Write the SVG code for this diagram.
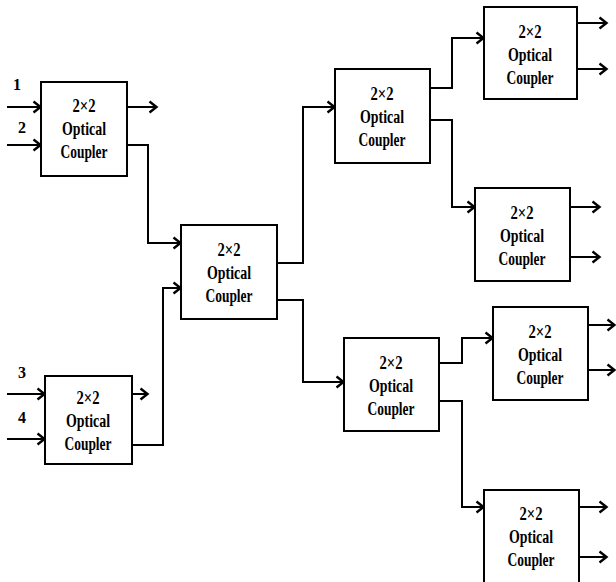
<svg xmlns="http://www.w3.org/2000/svg" width="616" height="582" viewBox="0 0 616 582">
  <style>
    .box { fill: #ffffff; stroke: #000000; stroke-width: 2; }
    .lbl { font-family: "Liberation Serif", "Times New Roman", serif; font-weight: bold; font-size: 18px; fill: #000000; text-anchor: middle; }
    .num { font-family: "Liberation Serif", "Times New Roman", serif; font-weight: bold; font-size: 16px; fill: #000000; text-anchor: middle; }
    .wire { fill: none; stroke: #000000; stroke-width: 2; }
    .arr { marker-end: url(#head); }
  </style>
  <defs>
    <marker id="head" markerUnits="userSpaceOnUse" viewBox="-12 -8 14 16" refX="0" refY="0" markerWidth="14" markerHeight="16" orient="auto">
      <path d="M-7.5,-5.5 L-0.5,0 L-7.5,5.5" fill="none" stroke="#000000" stroke-width="2.4" stroke-linejoin="miter"/>
    </marker>
  </defs>

  <rect width="616" height="582" fill="#ffffff"/>

  <!-- input port numbers -->
  <g id="inputs">
    <text class="num" x="17" y="90">1</text>
    <text class="num" x="22" y="133">2</text>
    <text class="num" x="22" y="378">3</text>
    <text class="num" x="22" y="423">4</text>
  </g>

  <!-- wiring between couplers -->
  <g id="connectors">
    <path class="wire arr" d="M7,107 H41"/>
    <path class="wire arr" d="M7,145 H41"/>
    <path class="wire arr" d="M7,394 H45"/>
    <path class="wire arr" d="M7,439 H45"/>

    <path class="wire arr" d="M127,107 H157"/>
    <path class="wire arr" d="M127,145 H148 V243 H181"/>
    <path class="wire arr" d="M132,394 H148"/>
    <path class="wire arr" d="M132,445 H163 V288 H181"/>

    <path class="wire arr" d="M277,263 H303 V107 H335"/>
    <path class="wire arr" d="M277,300 H303 V382 H344"/>

    <path class="wire arr" d="M430,88 H452 V38 H484"/>
    <path class="wire arr" d="M430,120 H452 V207 H475"/>
    <path class="wire arr" d="M439,363 H462 V338 H493"/>
    <path class="wire arr" d="M439,401 H462 V507 H484"/>

    <path class="wire arr" d="M577,23 H607"/>
    <path class="wire arr" d="M577,69 H607"/>
    <path class="wire arr" d="M570,207 H600"/>
    <path class="wire arr" d="M570,257 H600"/>
    <path class="wire arr" d="M588,325 H615"/>
    <path class="wire arr" d="M588,370 H615"/>
    <path class="wire arr" d="M579,507 H607"/>
    <path class="wire arr" d="M579,557 H607"/>
  </g>

  <!-- 2x2 couplers -->
  <g id="couplerA">
    <rect class="box" x="41" y="82" width="86" height="94"/>
    <text class="lbl" x="84" y="112" textLength="23" lengthAdjust="spacingAndGlyphs">2×2</text>
    <text class="lbl" x="84" y="135" textLength="44" lengthAdjust="spacingAndGlyphs">Optical</text>
    <text class="lbl" x="84" y="158" textLength="47" lengthAdjust="spacingAndGlyphs">Coupler</text>
  </g>
  <g id="couplerD">
    <rect class="box" x="45" y="376" width="87" height="88"/>
    <text class="lbl" x="88" y="404" textLength="23" lengthAdjust="spacingAndGlyphs">2×2</text>
    <text class="lbl" x="88" y="427" textLength="44" lengthAdjust="spacingAndGlyphs">Optical</text>
    <text class="lbl" x="88" y="450" textLength="47" lengthAdjust="spacingAndGlyphs">Coupler</text>
  </g>
  <g id="couplerB">
    <rect class="box" x="181" y="225" width="96" height="94"/>
    <text class="lbl" x="229" y="256" textLength="23" lengthAdjust="spacingAndGlyphs">2×2</text>
    <text class="lbl" x="229" y="279" textLength="44" lengthAdjust="spacingAndGlyphs">Optical</text>
    <text class="lbl" x="229" y="302" textLength="47" lengthAdjust="spacingAndGlyphs">Coupler</text>
  </g>
  <g id="couplerC">
    <rect class="box" x="335" y="69" width="95" height="94"/>
    <text class="lbl" x="382" y="100" textLength="23" lengthAdjust="spacingAndGlyphs">2×2</text>
    <text class="lbl" x="382" y="123" textLength="44" lengthAdjust="spacingAndGlyphs">Optical</text>
    <text class="lbl" x="382" y="146" textLength="47" lengthAdjust="spacingAndGlyphs">Coupler</text>
  </g>
  <g id="couplerG">
    <rect class="box" x="344" y="338" width="95" height="93"/>
    <text class="lbl" x="391" y="369" textLength="23" lengthAdjust="spacingAndGlyphs">2×2</text>
    <text class="lbl" x="391" y="392" textLength="44" lengthAdjust="spacingAndGlyphs">Optical</text>
    <text class="lbl" x="391" y="415" textLength="47" lengthAdjust="spacingAndGlyphs">Coupler</text>
  </g>
  <g id="couplerE">
    <rect class="box" x="484" y="7" width="93" height="92"/>
    <text class="lbl" x="530" y="38" textLength="23" lengthAdjust="spacingAndGlyphs">2×2</text>
    <text class="lbl" x="530" y="61" textLength="44" lengthAdjust="spacingAndGlyphs">Optical</text>
    <text class="lbl" x="530" y="84" textLength="47" lengthAdjust="spacingAndGlyphs">Coupler</text>
  </g>
  <g id="couplerF">
    <rect class="box" x="475" y="188" width="95" height="93"/>
    <text class="lbl" x="522" y="219" textLength="23" lengthAdjust="spacingAndGlyphs">2×2</text>
    <text class="lbl" x="522" y="242" textLength="44" lengthAdjust="spacingAndGlyphs">Optical</text>
    <text class="lbl" x="522" y="265" textLength="47" lengthAdjust="spacingAndGlyphs">Coupler</text>
  </g>
  <g id="couplerH">
    <rect class="box" x="493" y="307" width="95" height="93"/>
    <text class="lbl" x="540" y="338" textLength="23" lengthAdjust="spacingAndGlyphs">2×2</text>
    <text class="lbl" x="540" y="361" textLength="44" lengthAdjust="spacingAndGlyphs">Optical</text>
    <text class="lbl" x="540" y="384" textLength="47" lengthAdjust="spacingAndGlyphs">Coupler</text>
  </g>
  <g id="couplerI">
    <rect class="box" x="484" y="490" width="95" height="96"/>
    <text class="lbl" x="531" y="520" textLength="23" lengthAdjust="spacingAndGlyphs">2×2</text>
    <text class="lbl" x="531" y="543" textLength="44" lengthAdjust="spacingAndGlyphs">Optical</text>
    <text class="lbl" x="531" y="566" textLength="47" lengthAdjust="spacingAndGlyphs">Coupler</text>
  </g>
</svg>
